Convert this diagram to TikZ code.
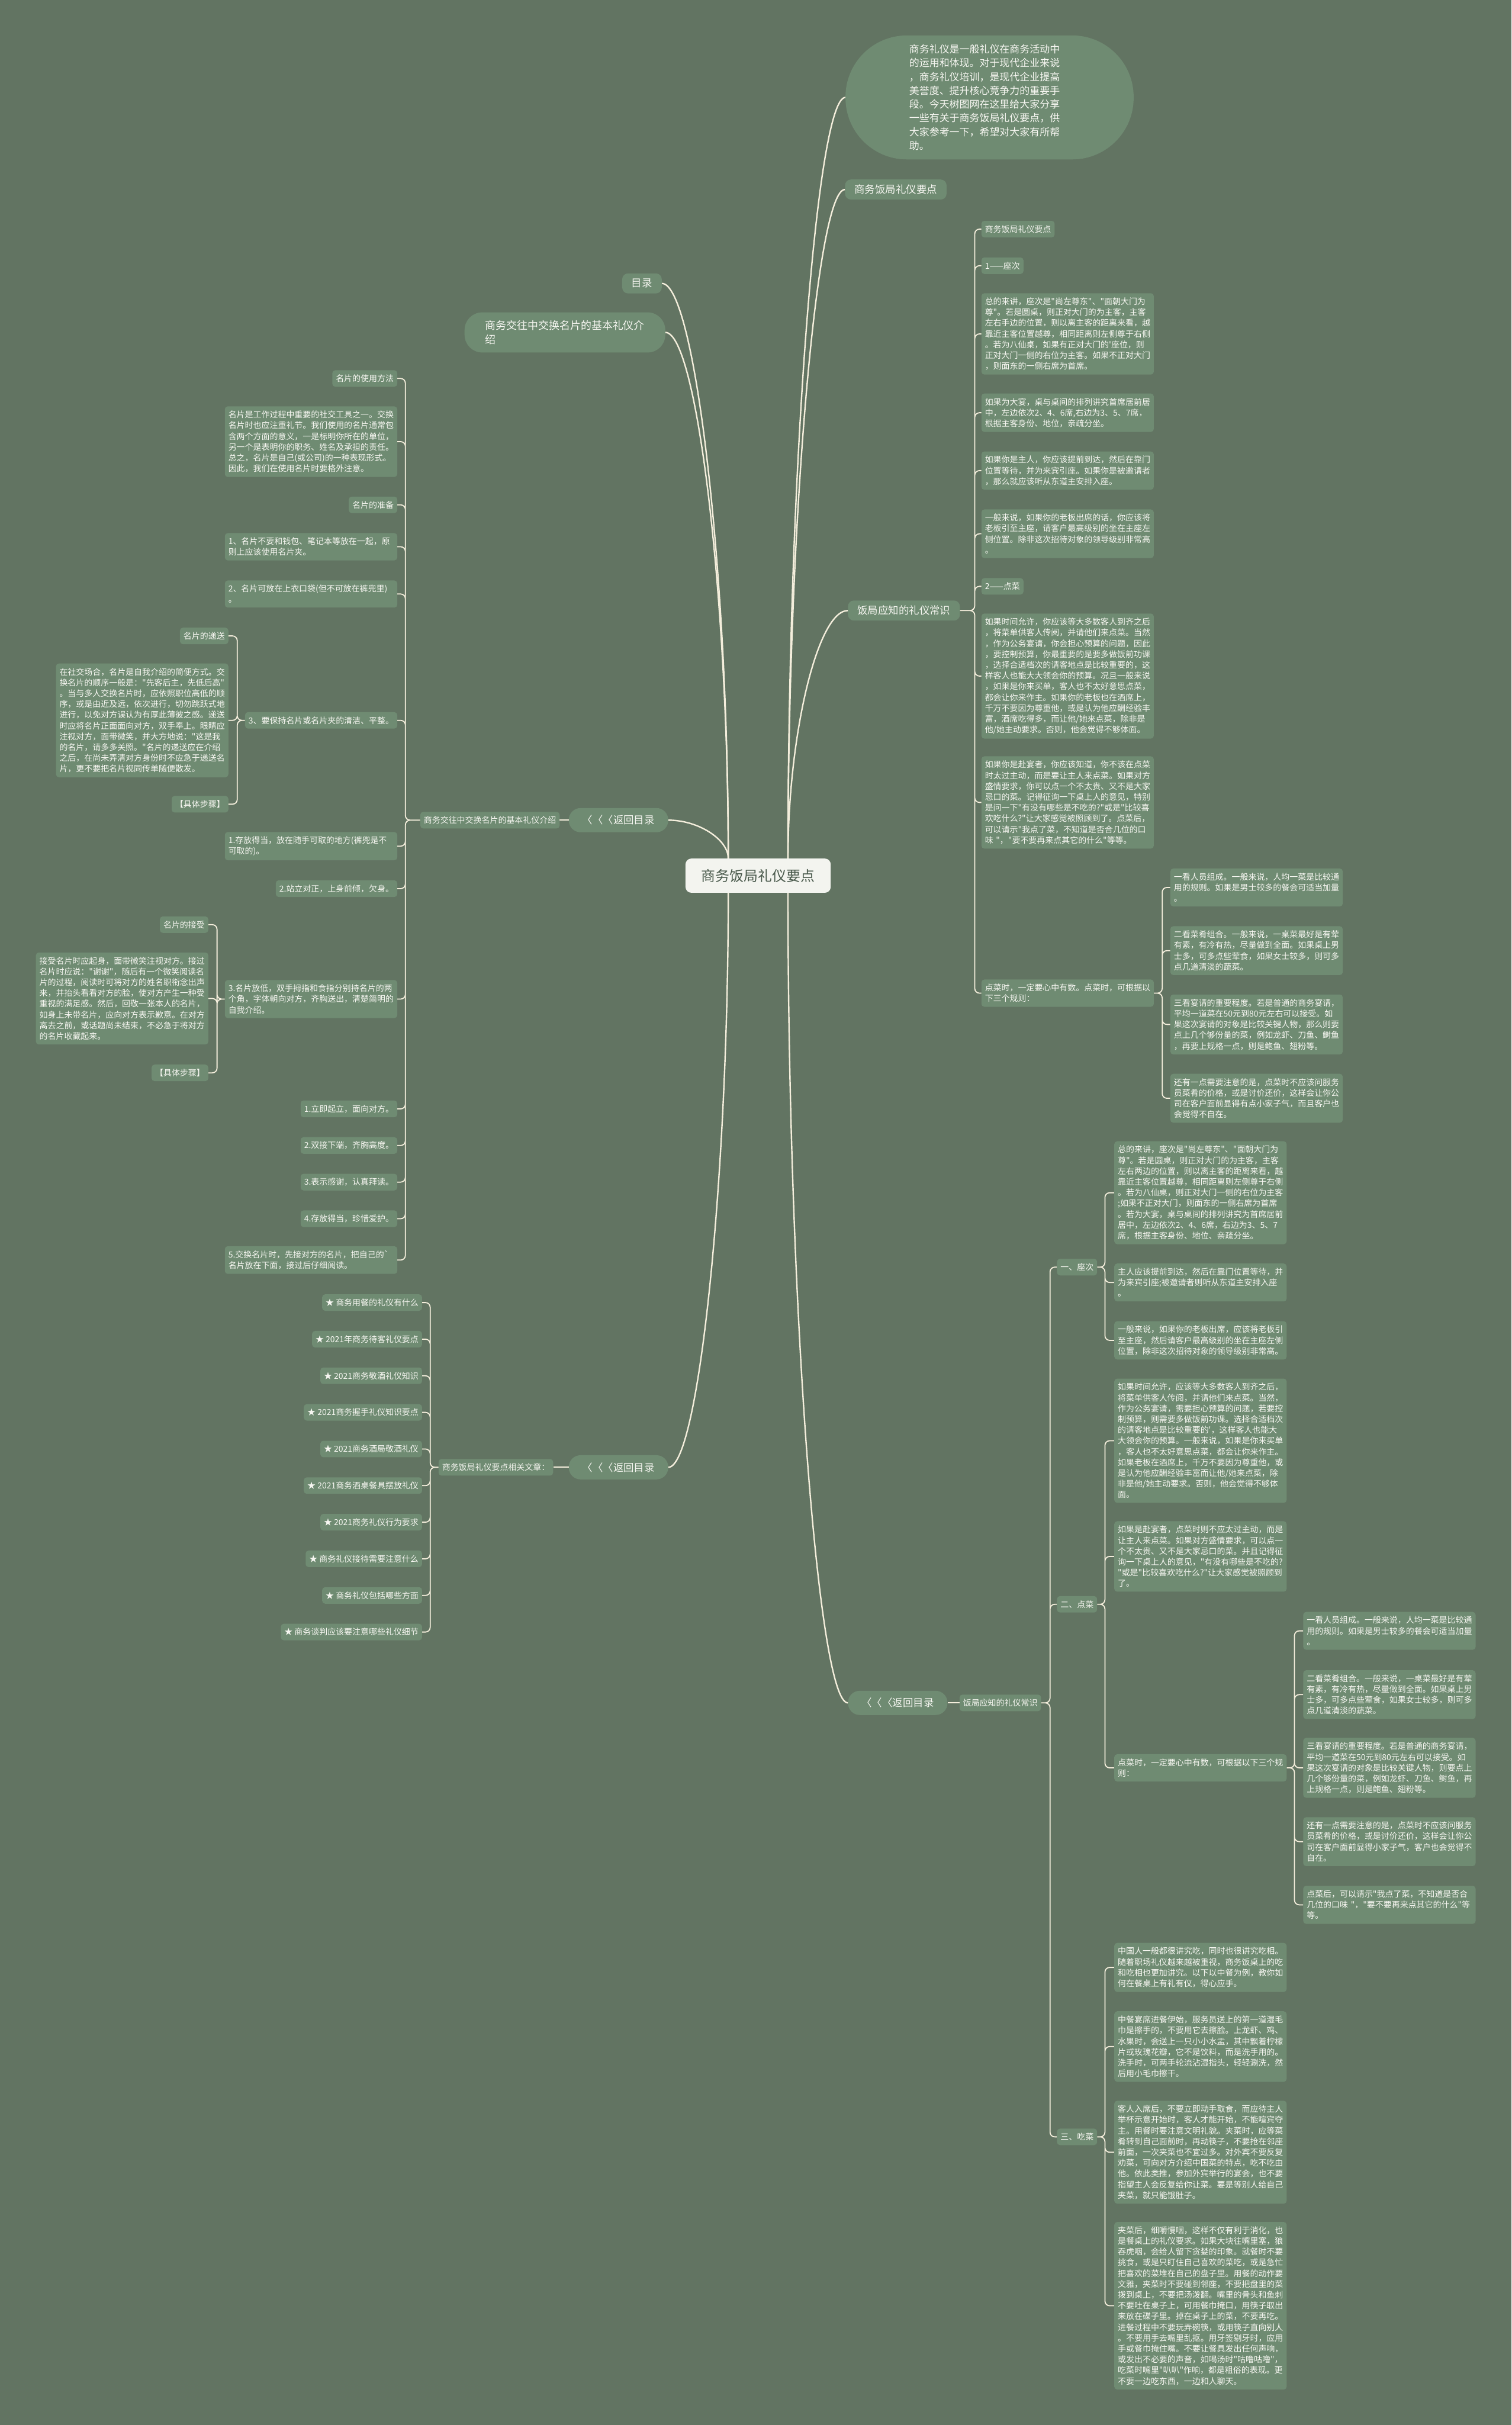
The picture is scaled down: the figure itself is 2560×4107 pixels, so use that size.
\documentclass[tikz,border=0pt]{standalone}
\usepackage{fontspec}
\setmainfont{Noto Sans CJK SC}[Ligatures=TeXOff]
\definecolor{canvas}{HTML}{627462}
\definecolor{nodebg}{HTML}{6F8B72}
\definecolor{wire}{HTML}{F4EEDC}
\definecolor{ink}{HTML}{F7F7F2}
\definecolor{hubbg}{HTML}{F3F4EF}
\definecolor{hubink}{HTML}{4A5A4C}

\begin{document}
\begin{tikzpicture}[x=1pt, y=-1pt,
  hub/.style={fill=hubbg, text=hubink, rounded corners=10pt, minimum width=246pt,
              minimum height=58pt, font=\fontsize{24}{28}\selectfont},
  intro/.style={fill=nodebg, text=ink, rounded corners=104pt, minimum width=488pt,
                minimum height=210pt, text width=272pt, align=left,
                font=\fontsize{17}{23.3}\selectfont},
  topic/.style={fill=nodebg, text=ink, rounded corners=10pt, inner xsep=16pt,
                minimum height=34pt, font=\fontsize{17.5}{22}\selectfont},
  back/.style={topic, rounded corners=20pt, inner xsep=23pt, minimum height=41pt},
  tag/.style={fill=nodebg, text=ink, rounded corners=5pt, inner xsep=6pt,
              inner ysep=7.5pt, font=\fontsize{14}{18.25}\selectfont},
  para/.style={tag, text width=280pt, align=left},
  link/.style={draw=wire, line width=1.8pt, rounded corners=8pt},
  curve/.style={draw=wire, line width=2.4pt}]

\useasboundingbox (0,0) rectangle (2560,4107);
\fill[canvas] (0,0) rectangle (2560,4107);

% centre and first level
\node[hub] (hub) at (1284,1483) {商务饭局礼仪要点};
\node[intro] (intro) at (1676,165) {商务礼仪是一般礼仪在商务活动中\\的运用和体现。对于现代企业来说\\，商务礼仪培训，是现代企业提高\\美誉度、提升核心竞争力的重要手\\段。今天树图网在这里给大家分享\\一些有关于商务饭局礼仪要点，供\\大家参考一下，希望对大家有所帮\\助。};
\node[topic, anchor=west] (secA) at (1431,321) {商务饭局礼仪要点};
\node[topic, anchor=west] (fjA) at (1436,1034) {饭局应知的礼仪常识};
\node[back, anchor=west] (backC) at (1436,2884) {〈〈〈返回目录};
\node[topic, anchor=east] (toc) at (1121,480) {目录};
\node[topic, anchor=east, rounded corners=30pt, inner xsep=35pt, minimum height=68pt,
      align=left, font=\fontsize{18}{24}\selectfont] (cardA) at (1127,563)
  {商务交往中交换名片的基本礼仪介\\绍};
\node[back, anchor=east] (backA) at (1132,1389) {〈〈〈返回目录};
\node[back, anchor=east] (backB) at (1132,2485) {〈〈〈返回目录};

\node[tag, anchor=east] (cardB) at (948,1389) {商务交往中交换名片的基本礼仪介绍};
\node[tag, anchor=east] (relB) at (937,2485) {商务饭局礼仪要点相关文章：};
\node[tag, anchor=west] (fjC) at (1625,2884) {饭局应知的礼仪常识};

% right, upper branch
\node[tag, anchor=west] (a1) at (1662,388) {商务饭局礼仪要点};
\node[tag, anchor=west] (a2) at (1662,450) {1——座次};
\node[para, anchor=west] (a3) at (1662,565.5) {总的来讲，座次是"尚左尊东"、"面朝大门为\\尊"。若是圆桌，则正对大门的为主客，主客\\左右手边的位置，则以离主客的距离来看，越\\靠近主客位置越尊，相同距离则左侧尊于右侧\\。若为八仙桌，如果有正对大门的'座位，则\\正对大门一侧的右位为主客。如果不正对大门\\，则面东的一侧右席为首席。};
\node[para, anchor=west] (a4) at (1662,699) {如果为大宴，桌与桌间的排列讲究首席居前居\\中，左边依次2、4、6席,右边为3、5、7席，\\根据主客身份、地位，亲疏分坐。};
\node[para, anchor=west] (a5) at (1662,797) {如果你是主人，你应该提前到达，然后在靠门\\位置等待，并为来宾引座。如果你是被邀请者\\，那么就应该听从东道主安排入座。};
\node[para, anchor=west] (a6) at (1662,904) {一般来说，如果你的老板出席的话，你应该将\\老板引至主座，请客户最高级别的坐在主座左\\侧位置。除非这次招待对象的领导级别非常高\\。};
\node[tag, anchor=west] (a7) at (1662,993) {2——点菜};
\node[para, anchor=west] (a8) at (1662,1145) {如果时间允许，你应该等大多数客人到齐之后\\，将菜单供客人传阅，并请他们来点菜。当然\\，作为公务宴请，你会担心预算的问题，因此\\，要控制预算，你最重要的是要多做饭前功课\\，选择合适档次的请客地点是比较重要的，这\\样客人也能大大领会你的预算。况且一般来说\\，如果是你来买单，客人也不太好意思点菜，\\都会让你来作主。如果你的老板也在酒席上，\\千万不要因为尊重他，或是认为他应酬经验丰\\富，酒席吃得多，而让他/她来点菜，除非是\\他/她主动要求。否则，他会觉得不够体面。};
\node[para, anchor=west] (a9) at (1662,1359) {如果你是赴宴者，你应该知道，你不该在点菜\\时太过主动，而是要让主人来点菜。如果对方\\盛情要求，你可以点一个不太贵、又不是大家\\忌口的菜。记得征询一下桌上人的意见，特别\\是问一下"有没有哪些是不吃的?"或是"比较喜\\欢吃什么?"让大家感觉被照顾到了。点菜后，\\可以请示"我点了菜，不知道是否合几位的口\\味 "，"要不要再来点其它的什么"等等。};
\node[para, anchor=west] (a10) at (1662,1682) {点菜时，一定要心中有数。点菜时，可根据以\\下三个规则：};
\node[para, anchor=west] (r1) at (1982,1503) {一看人员组成。一般来说，人均一菜是比较通\\用的规则。如果是男士较多的餐会可适当加量\\。};
\node[para, anchor=west] (r2) at (1982,1610) {二看菜肴组合。一般来说，一桌菜最好是有荤\\有素，有冷有热，尽量做到全面。如果桌上男\\士多，可多点些荤食，如果女士较多，则可多\\点几道清淡的蔬菜。};
\node[para, anchor=west] (r3) at (1982,1735) {三看宴请的重要程度。若是普通的商务宴请，\\平均一道菜在50元到80元左右可以接受。如\\果这次宴请的对象是比较关键人物，那么则要\\点上几个够份量的菜，例如龙虾、刀鱼、鲥鱼\\，再要上规格一点，则是鲍鱼、翅粉等。};
\node[para, anchor=west] (r4) at (1982,1860) {还有一点需要注意的是，点菜时不应该问服务\\员菜肴的价格，或是讨价还价，这样会让你公\\司在客户面前显得有点小家子气，而且客户也\\会觉得不自在。};

% left, upper branch
\node[tag, anchor=east] (c1) at (673,641) {名片的使用方法};
\node[para, anchor=east] (c2) at (673,748) {名片是工作过程中重要的社交工具之一。交换\\名片时也应注重礼节。我们使用的名片通常包\\含两个方面的意义，一是标明你所在的单位，\\另一个是表明你的职务、姓名及承担的责任。\\总之，名片是自己(或公司)的一种表现形式。\\因此，我们在使用名片时要格外注意。};
\node[tag, anchor=east] (c3) at (673,855) {名片的准备};
\node[para, anchor=east] (c4) at (673,926) {1、名片不要和钱包、笔记本等放在一起，原\\则上应该使用名片夹。};
\node[para, anchor=east] (c5) at (673,1006) {2、名片可放在上衣口袋(但不可放在裤兜里)\\。};
\node[tag, anchor=east] (c6) at (673,1220) {3、要保持名片或名片夹的清洁、平整。};
\node[para, anchor=east] (c7) at (673,1433) {1.存放得当，放在随手可取的地方(裤兜是不\\可取的)。};
\node[tag, anchor=east] (c8) at (673,1505) {2.站立对正，上身前倾，欠身。};
\node[para, anchor=east] (c9) at (673,1692) {3.名片放低，双手拇指和食指分别持名片的两\\个角，字体朝向对方，齐胸送出，清楚简明的\\自我介绍。};
\node[tag, anchor=east] (c10) at (673,1878) {1.立即起立，面向对方。};
\node[tag, anchor=east] (c11) at (673,1940) {2.双接下端，齐胸高度。};
\node[tag, anchor=east] (c12) at (673,2002) {3.表示感谢，认真拜读。};
\node[tag, anchor=east] (c13) at (673,2064) {4.存放得当，珍惜爱护。};
\node[para, anchor=east] (c14) at (673,2134) {5.交换名片时，先接对方的名片，把自己的`\\名片放在下面，接过后仔细阅读。};

\node[tag, anchor=east] (d1) at (387,1077) {名片的递送};
\node[para, anchor=east] (d2) at (387,1220) {在社交场合，名片是自我介绍的简便方式。交\\换名片的顺序一般是："先客后主，先低后高"\\。当与多人交换名片时，应依照职位高低的顺\\序，或是由近及远，依次进行，切勿跳跃式地\\进行，以免对方误认为有厚此薄彼之感。递送\\时应将名片正面面向对方，双手奉上。眼睛应\\注视对方，面带微笑，并大方地说："这是我\\的名片，请多多关照。"名片的递送应在介绍\\之后，在尚未弄清对方身份时不应急于递送名\\片，更不要把名片视同传单随便散发。};
\node[tag, anchor=east] (d3) at (387,1362) {【具体步骤】};
\node[tag, anchor=east] (e1) at (353,1566) {名片的接受};
\node[para, anchor=east] (e2) at (353,1691) {接受名片时应起身，面带微笑注视对方。接过\\名片时应说："谢谢"，随后有一个微笑阅读名\\片的过程，阅读时可将对方的姓名职衔念出声\\来，并抬头看看对方的脸，使对方产生一种受\\重视的满足感。然后，回敬一张本人的名片，\\如身上未带名片，应向对方表示歉意。在对方\\离去之前，或话题尚未结束，不必急于将对方\\的名片收藏起来。};
\node[tag, anchor=east] (e3) at (353,1817) {【具体步骤】};

% left, lower branch
\node[tag, anchor=east] (s1) at (715,2206) {★ 商务用餐的礼仪有什么};
\node[tag, anchor=east] (s2) at (715,2268) {★ 2021年商务待客礼仪要点};
\node[tag, anchor=east] (s3) at (715,2330) {★ 2021商务敬酒礼仪知识};
\node[tag, anchor=east] (s4) at (715,2392) {★ 2021商务握手礼仪知识要点};
\node[tag, anchor=east] (s5) at (715,2454) {★ 2021商务酒局敬酒礼仪};
\node[tag, anchor=east] (s6) at (715,2516) {★ 2021商务酒桌餐具摆放礼仪};
\node[tag, anchor=east] (s7) at (715,2578) {★ 2021商务礼仪行为要求};
\node[tag, anchor=east] (s8) at (715,2640) {★ 商务礼仪接待需要注意什么};
\node[tag, anchor=east] (s9) at (715,2702) {★ 商务礼仪包括哪些方面};
\node[tag, anchor=east] (s10) at (715,2764) {★ 商务谈判应该要注意哪些礼仪细节};

% right, lower branch
\node[tag, anchor=west] (g1) at (1790,2146) {一、座次};
\node[tag, anchor=west] (g2) at (1790,2717) {二、点菜};
\node[tag, anchor=west] (g3) at (1790,3619) {三、吃菜};
\node[para, anchor=west] (h1) at (1887,2020) {总的来讲，座次是"尚左尊东"、"面朝大门为\\尊"。若是圆桌，则正对大门的为主客，主客\\左右两边的位置，则以离主客的距离来看，越\\靠近主客位置越尊，相同距离则左侧尊于右侧\\。若为八仙桌，则正对大门一侧的右位为主客\\;如果不正对大门，则面东的一侧右席为首席\\。若为大宴，桌与桌间的排列讲究为首席居前\\居中，左边依次2、4、6席，右边为3、5、7\\席，根据主客身份、地位、亲疏分坐。};
\node[para, anchor=west] (h2) at (1887,2172) {主人应该提前到达，然后在靠门位置等待，并\\为来宾引座;被邀请者则听从东道主安排入座\\。};
\node[para, anchor=west] (h3) at (1887,2270) {一般来说，如果你的老板出席，应该将老板引\\至主座，然后请客户最高级别的坐在主座左侧\\位置，除非这次招待对象的领导级别非常高。};
\node[para, anchor=west] (i1) at (1887,2440) {如果时间允许，应该等大多数客人到齐之后，\\将菜单供客人传阅，并请他们来点菜。当然，\\作为公务宴请，需要担心预算的问题，若要控\\制预算，则需要多做饭前功课。选择合适档次\\的请客地点是比较重要的'，这样客人也能大\\大领会你的预算。一般来说，如果是你来买单\\，客人也不太好意思点菜，都会让你来作主。\\如果老板在酒席上，千万不要因为尊重他，或\\是认为他应酬经验丰富而让他/她来点菜，除\\非是他/她主动要求。否则，他会觉得不够体\\面。};
\node[para, anchor=west] (i2) at (1887,2636) {如果是赴宴者，点菜时则不应太过主动，而是\\让主人来点菜。如果对方盛情要求，可以点一\\个不太贵、又不是大家忌口的菜。并且记得征\\询一下桌上人的意见，"有没有哪些是不吃的?\\"或是"比较喜欢吃什么?"让大家感觉被照顾到\\了。};
\node[para, anchor=west] (i3) at (1887,2994) {点菜时，一定要心中有数，可根据以下三个规\\则：};
\node[para, anchor=west] (j1) at (2207,2762) {一看人员组成。一般来说，人均一菜是比较通\\用的规则。如果是男士较多的餐会可适当加量\\。};
\node[para, anchor=west] (j2) at (2207,2870) {二看菜肴组合。一般来说，一桌菜最好是有荤\\有素，有冷有热，尽量做到全面。如果桌上男\\士多，可多点些荤食，如果女士较多，则可多\\点几道清淡的蔬菜。};
\node[para, anchor=west] (j3) at (2207,2994) {三看宴请的重要程度。若是普通的商务宴请，\\平均一道菜在50元到80元左右可以接受。如\\果这次宴请的对象是比较关键人物，则要点上\\几个够份量的菜，例如龙虾、刀鱼、鲥鱼，再\\上规格一点，则是鲍鱼、翅粉等。};
\node[para, anchor=west] (j4) at (2207,3119) {还有一点需要注意的是，点菜时不应该问服务\\员菜肴的价格，或是讨价还价，这样会让你公\\司在客户面前显得小家子气，客户也会觉得不\\自在。};
\node[para, anchor=west] (j5) at (2207,3226) {点菜后，可以请示"我点了菜，不知道是否合\\几位的口味 "，"要不要再来点其它的什么"等\\等。};
\node[para, anchor=west] (k1) at (1887,3332) {中国人一般都很讲究吃，同时也很讲究吃相。\\随着职场礼仪越来越被重视，商务饭桌上的吃\\和吃相也更加讲究。以下以中餐为例，教你如\\何在餐桌上有礼有仪，得心应手。};
\node[para, anchor=west] (k2) at (1887,3466) {中餐宴席进餐伊始，服务员送上的第一道湿毛\\巾是擦手的，不要用它去擦脸。上龙虾、鸡、\\水果时，会送上一只小小水盂，其中飘着柠檬\\片或玫瑰花瓣，它不是饮料，而是洗手用的。\\洗手时，可两手轮流沾湿指头，轻轻涮洗，然\\后用小毛巾擦干。};
\node[para, anchor=west] (k3) at (1887,3645) {客人入席后，不要立即动手取食，而应待主人\\举杯示意开始时，客人才能开始，不能喧宾夺\\主。用餐时要注意文明礼貌。夹菜时，应等菜\\肴转到自己面前时，再动筷子，不要抢在邻座\\前面，一次夹菜也不宜过多。对外宾不要反复\\劝菜，可向对方介绍中国菜的特点，吃不吃由\\他。依此类推，参加外宾举行的宴会，也不要\\指望主人会反复给你让菜。要是等别人给自己\\夹菜，就只能饿肚子。};
\node[para, anchor=west] (k4) at (1887,3905) {夹菜后，细嚼慢咽，这样不仅有利于消化，也\\是餐桌上的礼仪要求。如果大块往嘴里塞，狼\\吞虎咽，会给人留下贪婪的印象。就餐时不要\\挑食，或是只盯住自己喜欢的菜吃，或是急忙\\把喜欢的菜堆在自己的盘子里。用餐的动作要\\文雅，夹菜时不要碰到邻座，不要把盘里的菜\\拨到桌上，不要把汤泼翻。嘴里的骨头和鱼刺\\不要吐在桌子上，可用餐巾掩口，用筷子取出\\来放在碟子里。掉在桌子上的菜，不要再吃。\\进餐过程中不要玩弄碗筷，或用筷子直向别人\\。不要用手去嘴里乱抠。用牙签剔牙时，应用\\手或餐巾掩住嘴。不要让餐具发出任何声响，\\或发出不必要的声音，如喝汤时"咕噜咕噜"，\\吃菜时嘴里"叭叭"作响，都是粗俗的表现。更\\不要一边吃东西，一边和人聊天。};

% connectors from the centre
\draw[curve] (hub.30) .. controls +(0,-645) and +(-49,0) .. (intro.west);
\draw[curve] (hub.30) .. controls +(0,-566) and +(-48,0) .. (secA.west);
\draw[curve] (hub.30) .. controls +(0,-210) and +(-51,0) .. (fjA.west);
\draw[curve] (hub.-30) .. controls +(0,686) and +(-51,0) .. (backC.west);
\draw[curve] (hub.150) .. controls +(0,-487) and +(56,0) .. (toc.east);
\draw[curve] (hub.150) .. controls +(0,-445) and +(53,0) .. (cardA.east);
\draw[curve] (hub.150) .. controls +(0,-32) and +(51,0) .. (backA.east);
\draw[curve] (hub.210) .. controls +(0,486) and +(51,0) .. (backB.east);

\draw[link] (backA.west) -- (cardB.east);
\draw[link] (backB.west) -- (relB.east);
\draw[link] (backC.east) -- (fjC.west);

% brackets
\draw[link] (fjA.east) -- ++(25,0) |- (a1.west) (fjA.east) -- ++(25,0) |- (a2.west)
  (fjA.east) -- ++(25,0) |- (a3.west) (fjA.east) -- ++(25,0) |- (a4.west)
  (fjA.east) -- ++(25,0) |- (a5.west) (fjA.east) -- ++(25,0) |- (a6.west)
  (fjA.east) -- ++(25,0) |- (a7.west) (fjA.east) -- ++(25,0) |- (a8.west)
  (fjA.east) -- ++(25,0) |- (a9.west) (fjA.east) -- ++(25,0) |- (a10.west);
\draw[link] (a10.east) -- ++(14,0) |- (r1.west) (a10.east) -- ++(14,0) |- (r2.west)
  (a10.east) -- ++(14,0) |- (r3.west) (a10.east) -- ++(14,0) |- (r4.west);

\draw[link] (cardB.west) -- ++(-25,0) |- (c1.east) (cardB.west) -- ++(-25,0) |- (c2.east)
  (cardB.west) -- ++(-25,0) |- (c3.east) (cardB.west) -- ++(-25,0) |- (c4.east)
  (cardB.west) -- ++(-25,0) |- (c5.east) (cardB.west) -- ++(-25,0) |- (c6.east)
  (cardB.west) -- ++(-25,0) |- (c7.east) (cardB.west) -- ++(-25,0) |- (c8.east)
  (cardB.west) -- ++(-25,0) |- (c9.east) (cardB.west) -- ++(-25,0) |- (c10.east)
  (cardB.west) -- ++(-25,0) |- (c11.east) (cardB.west) -- ++(-25,0) |- (c12.east)
  (cardB.west) -- ++(-25,0) |- (c13.east) (cardB.west) -- ++(-25,0) |- (c14.east);
\draw[link] (c6.west) -- ++(-13,0) |- (d1.east) (c6.west) -- ++(-13,0) |- (d2.east)
  (c6.west) -- ++(-13,0) |- (d3.east);
\draw[link] (c9.west) -- ++(-13,0) |- (e1.east) (c9.west) -- ++(-13,0) |- (e2.east)
  (c9.west) -- ++(-13,0) |- (e3.east);

\draw[link] (relB.west) -- ++(-14,0) |- (s1.east) (relB.west) -- ++(-14,0) |- (s2.east)
  (relB.west) -- ++(-14,0) |- (s3.east) (relB.west) -- ++(-14,0) |- (s4.east)
  (relB.west) -- ++(-14,0) |- (s5.east) (relB.west) -- ++(-14,0) |- (s6.east)
  (relB.west) -- ++(-14,0) |- (s7.east) (relB.west) -- ++(-14,0) |- (s8.east)
  (relB.west) -- ++(-14,0) |- (s9.east) (relB.west) -- ++(-14,0) |- (s10.east);

\draw[link] (fjC.east) -- ++(15,0) |- (g1.west) (fjC.east) -- ++(15,0) |- (g2.west)
  (fjC.east) -- ++(15,0) |- (g3.west);
\draw[link] (g1.east) -- ++(13,0) |- (h1.west) (g1.east) -- ++(13,0) |- (h2.west)
  (g1.east) -- ++(13,0) |- (h3.west);
\draw[link] (g2.east) -- ++(13,0) |- (i1.west) (g2.east) -- ++(13,0) |- (i2.west)
  (g2.east) -- ++(13,0) |- (i3.west);
\draw[link] (i3.east) -- ++(13,0) |- (j1.west) (i3.east) -- ++(13,0) |- (j2.west)
  (i3.east) -- ++(13,0) |- (j3.west) (i3.east) -- ++(13,0) |- (j4.west)
  (i3.east) -- ++(13,0) |- (j5.west);
\draw[link] (g3.east) -- ++(13,0) |- (k1.west) (g3.east) -- ++(13,0) |- (k2.west)
  (g3.east) -- ++(13,0) |- (k3.west) (g3.east) -- ++(13,0) |- (k4.west);
\end{tikzpicture}
\end{document}
